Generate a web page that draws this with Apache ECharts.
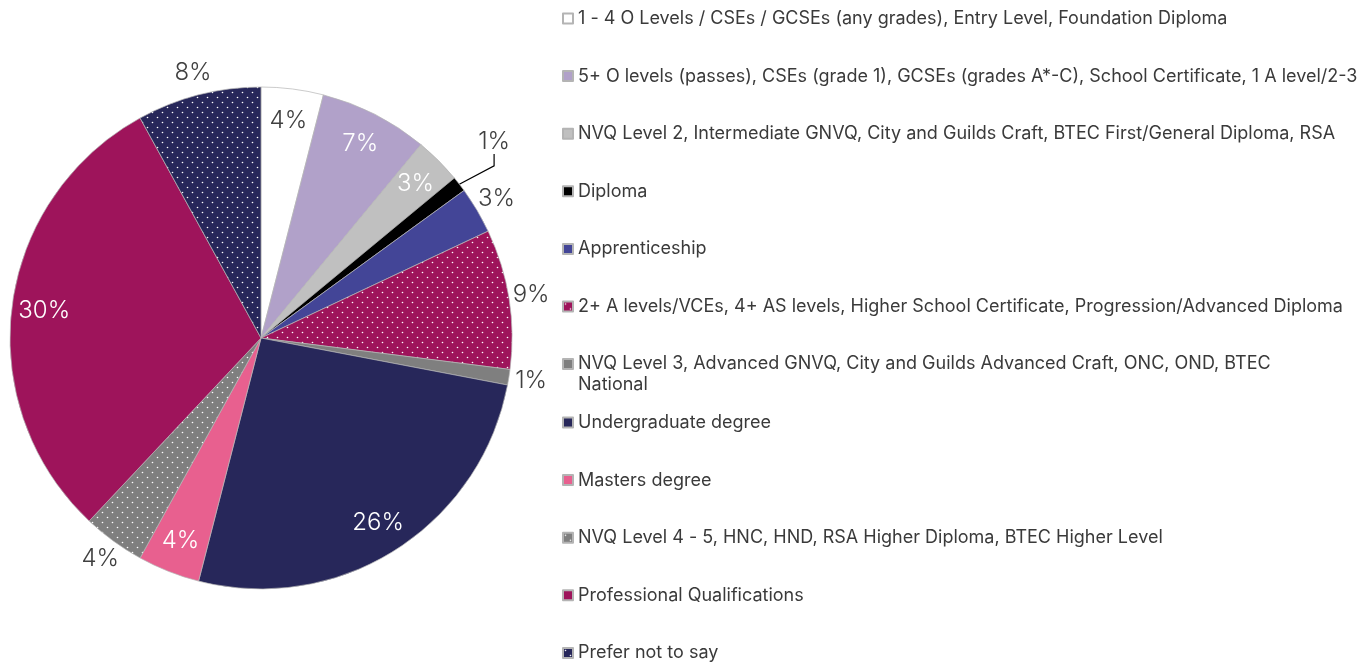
<!DOCTYPE html>
<html>
<head>
<meta charset="utf-8">
<script src="https://cdn.jsdelivr.net/npm/echarts@6/dist/echarts.min.js"></script>
<style>
html, body { margin: 0; padding: 0; background: #fff; }
#chart { width: 1367px; height: 664px; }
</style>
</head>
<body>
<div id="chart"></div>
<script>
// qualification categories, in the order they are drawn (clockwise from 12 o'clock)
const categories = [
    '1 - 4 O Levels / CSEs / GCSEs (any grades), Entry Level, Foundation Diploma',
    '5+ O levels (passes), CSEs (grade 1), GCSEs (grades A*-C), School Certificate, 1 A level/2-3',
    'NVQ Level 2, Intermediate GNVQ, City and Guilds Craft, BTEC First/General Diploma, RSA',
    'Diploma',
    'Apprenticeship',
    '2+ A levels/VCEs, 4+ AS levels, Higher School Certificate, Progression/Advanced Diploma',
    'NVQ Level 3, Advanced GNVQ, City and Guilds Advanced Craft, ONC, OND, BTEC National',
    'Undergraduate degree',
    'Masters degree',
    'NVQ Level 4 - 5, HNC, HND, RSA Higher Diploma, BTEC Higher Level',
    'Professional Qualifications',
    'Prefer not to say'
]
const shares = [4, 7, 3, 1, 3, 9, 1, 26, 4, 4, 30, 8]

// which slices carry their label inside the pie, and which one uses a leader line
const insideIdx = [0, 1, 2, 7, 8, 10]
const leaderIdx = [3]

const baseColors = ['#ffffff', '#b1a1c9', '#c0c0c0', '#000000', '#434597', '#9e145b',
    '#7f7f7f', '#27275a', '#e8608f', '#7f7f7f', '#9e145b', '#27275a']
const dottedIdx = [5, 9, 11]

function dots(bg) {
    const c = document.createElement('canvas')
    c.width = 10
    c.height = 10
    const ctx = c.getContext('2d')
    ctx.fillStyle = bg
    ctx.fillRect(0, 0, 10, 10)
    ctx.fillStyle = '#ffffff'
    ;[[2.5, 2.5], [7.5, 7.5]].forEach(p => {
        ctx.beginPath()
        ctx.arc(p[0], p[1], 0.8, 0, Math.PI * 2)
        ctx.fill()
    })
    return { image: c, repeat: 'repeat' }
}

const fillOf = i => dottedIdx.includes(i) ? dots(baseColors[i]) : baseColors[i]
const labelFont = { fontFamily: 'Inter', fontWeight: 300, fontSize: 24 }
const center = [261, 338]
const R = 251

const chart = echarts.init(document.getElementById('chart'))

const mainData = categories.map((name, i) => ({
    name: name,
    value: shares[i],
    itemStyle: { color: fillOf(i) },
    label: { show: leaderIdx.includes(i) },
    labelLine: { show: leaderIdx.includes(i) }
}))

const innerData = categories.map((name, i) => ({
    name: name,
    value: shares[i],
    label: {
        show: insideIdx.includes(i),
        color: i === 0 ? '#404040' : '#ffffff'
    }
}))

const outerData = categories.map((name, i) => ({
    name: name,
    value: shares[i],
    label: { show: !insideIdx.includes(i) && !leaderIdx.includes(i) }
}))

const ring = {
    type: 'pie',
    center: center,
    clockwise: true,
    startAngle: 90,
    silent: true,
    animation: false,
    itemStyle: { color: 'rgba(0,0,0,0)', borderWidth: 0 },
    emphasis: { disabled: true },
    tooltip: { show: false },
    labelLine: { show: false }
}

// legend split in three blocks so the two-line entry keeps the even spacing
const legendText = {
    fontFamily: 'Inter',
    fontSize: 18,
    color: '#3a3a3a',
    lineHeight: 21,
    rich: { gap: { lineHeight: 21, fontSize: 18 } }
}
function legendBlock(names, top, fmt) {
    return {
        orient: 'vertical',
        left: 562,
        top: top,
        height: 320,
        padding: 0,
        itemWidth: 10,
        itemHeight: 10,
        itemGap: 36.6,
        icon: 'rect',
        selectedMode: false,
        data: names,
        formatter: fmt || (name => name),
        textStyle: legendText
    }
}

const option = {
    animation: false,
    legend: [
        legendBlock(categories.slice(0, 6), 8),
        // blank first line keeps the icon beside the first line of the wrapped text
        legendBlock(categories.slice(6, 7), 332.5,
            name => '{gap| }\n' + name.replace('BTEC National', 'BTEC\nNational')),
        legendBlock(categories.slice(7), 412)
    ],
    series: [
        {
            type: 'pie',
            center: center,
            radius: [0, R],
            startAngle: 90,
            clockwise: true,
            animation: false,
            data: mainData,
            itemStyle: { borderColor: '#b4b4b4', borderWidth: 0.7 },
            label: Object.assign({ position: 'outside', color: '#404040', formatter: '{c}%' }, labelFont),
            labelLine: { length: 20, length2: 12, lineStyle: { color: '#000', width: 1.2 } },
            labelLayout: params => {
                if (params.dataIndex !== 3) return {}
                const r = params.labelRect
                return { x: r.x - 14, y: r.y + r.height / 2 - 30 }
            }
        },
        Object.assign({}, ring, {
            radius: [180, R],
            data: innerData,
            label: Object.assign({ position: 'inside', formatter: '{c}%' }, labelFont)
        }),
        Object.assign({}, ring, {
            radius: [R, 290],
            data: outerData,
            label: Object.assign({ position: 'inside', color: '#404040', formatter: '{c}%' }, labelFont)
        })
    ]
}

chart.setOption(option)
</script>
</body>
</html>
